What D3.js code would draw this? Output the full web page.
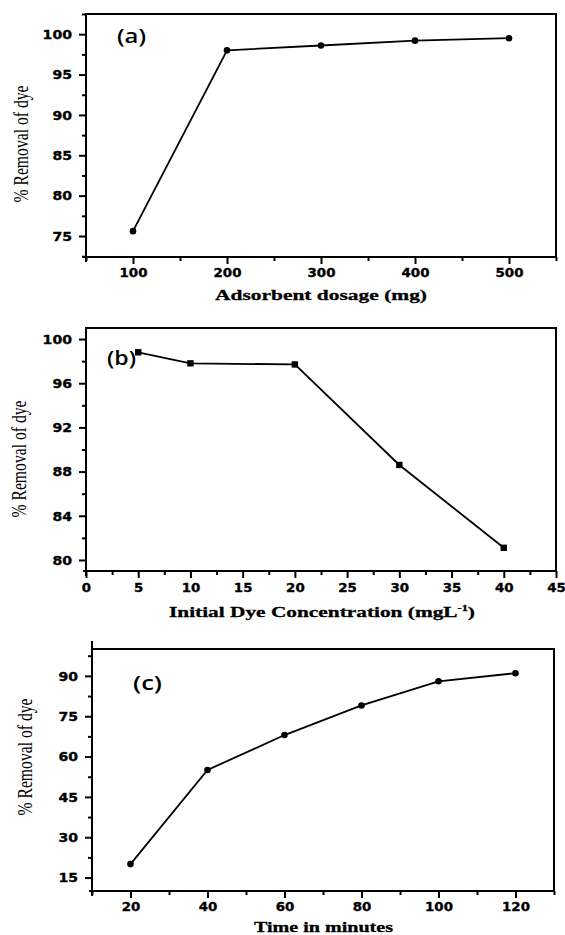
<!DOCTYPE html>
<html>
<head>
<meta charset="utf-8">
<script src="https://cdn.jsdelivr.net/npm/d3@7"></script>
<style>
  html, body { margin: 0; padding: 0; background: #fff; }
  svg { display: block; }
</style>
</head>
<body>
<svg id="chart" width="565" height="935"></svg>
<script>
// ---- data ----
const dosage = [100, 200, 300, 400, 500];
const removalA = [75.6, 98.0, 98.6, 99.2, 99.5];

const concentration = [5, 10, 20, 30, 40];
const removalB = [98.8, 97.8, 97.7, 88.6, 81.1];

const time = [20, 40, 60, 80, 100, 120];
const removalC = [20, 55, 68, 79, 88, 91];

// ---- tick labels ----
const ticksAX = [100, 200, 300, 400, 500];
const ticksAY = [75, 80, 85, 90, 95, 100];
const ticksBX = [0, 5, 10, 15, 20, 25, 30, 35, 40, 45];
const ticksBY = [80, 84, 88, 92, 96, 100];
const ticksCX = [20, 40, 60, 80, 100, 120];
const ticksCY = [15, 30, 45, 60, 75, 90];

const minorAX = [50, 150, 250, 350, 450, 550];
const minorAY = [72.5, 77.5, 82.5, 87.5, 92.5, 97.5, 102.5];
const minorBX = [2.5, 7.5, 12.5, 17.5, 22.5, 27.5, 32.5, 37.5, 42.5];
const minorBY = [82, 86, 90, 94, 98];
const minorCX = [10, 30, 50, 70, 90, 110, 130];
const minorCY = [22.5, 37.5, 52.5, 67.5, 82.5, 97.5];

const svg = d3.select("#chart");

function stretch(sel, perChar) {
  sel.each(function() {
    const t = d3.select(this);
    const n = t.text().length;
    t.attr("textLength", n * perChar).attr("lengthAdjust", "spacingAndGlyphs");
  });
}

function panel(cfg) {
  const g = svg.append("g");
  const x = d3.scaleLinear().domain(cfg.xDomain).range([cfg.left, cfg.right]);
  const y = d3.scaleLinear().domain(cfg.yDomain).range([cfg.bottom, cfg.top]);

  // minor ticks
  g.append("g").attr("transform", `translate(0,${cfg.bottom})`)
    .call(d3.axisBottom(x).tickValues(cfg.minorX).tickSize(4).tickFormat(""))
    .call(s => s.select(".domain").remove())
    .call(s => s.selectAll("line").attr("stroke-width", 2));
  g.append("g").attr("transform", `translate(${cfg.left},0)`)
    .call(d3.axisLeft(y).tickValues(cfg.minorY).tickSize(4).tickFormat(""))
    .call(s => s.select(".domain").remove())
    .call(s => s.selectAll("line").attr("stroke-width", 2));

  // major ticks + labels
  const xa = g.append("g").attr("transform", `translate(0,${cfg.bottom})`)
    .call(d3.axisBottom(x).tickValues(cfg.ticksX).tickSize(7).tickPadding(5))
    .call(s => s.select(".domain").remove());
  xa.selectAll("line").attr("stroke-width", 2);
  xa.selectAll("text").attr("font-family", "DejaVu Sans").attr("font-weight", "bold")
    .attr("font-size", 12).attr("fill", "#000").attr("stroke", "#000").attr("stroke-width", 0.35)
    .attr("dy", null).attr("y", cfg.xLabelOffset);
  stretch(xa.selectAll("text"), 9.3);

  const ya = g.append("g").attr("transform", `translate(${cfg.left},0)`)
    .call(d3.axisLeft(y).tickValues(cfg.ticksY).tickSize(7).tickPadding(7))
    .call(s => s.select(".domain").remove());
  ya.selectAll("line").attr("stroke-width", 2);
  ya.selectAll("text").attr("font-family", "DejaVu Sans").attr("font-weight", "bold")
    .attr("font-size", 12).attr("fill", "#000").attr("stroke", "#000").attr("stroke-width", 0.35)
    .attr("dy", "0.36em");
  stretch(ya.selectAll("text"), 9.8);

  // frame
  g.append("rect").attr("x", cfg.left).attr("y", cfg.top)
    .attr("width", cfg.right - cfg.left).attr("height", cfg.bottom - cfg.top)
    .attr("fill", "none").attr("stroke", "#000").attr("stroke-width", 2);
  // axis line extensions (Origin style)
  g.append("line").attr("x1", cfg.left).attr("x2", cfg.left)
    .attr("y1", cfg.top - (cfg.yExtTop || 0)).attr("y2", cfg.bottom + 5)
    .attr("stroke", "#000").attr("stroke-width", 2);
  g.append("line").attr("x1", cfg.left - 3).attr("x2", cfg.right)
    .attr("y1", cfg.bottom).attr("y2", cfg.bottom)
    .attr("stroke", "#000").attr("stroke-width", 2);

  // data line
  const pts = cfg.xs.map((v, i) => [v, cfg.ys[i]]);
  g.append("path").datum(pts)
    .attr("d", d3.line().x(d => x(d[0])).y(d => y(d[1])))
    .attr("fill", "none").attr("stroke", "#000").attr("stroke-width", 1.8);

  if (cfg.square) {
    g.selectAll("rect.pt").data(pts).join("rect").attr("class", "pt")
      .attr("x", d => x(d[0]) - 3.2).attr("y", d => y(d[1]) - 3.2)
      .attr("width", 6.4).attr("height", 6.4).attr("fill", "#000");
  } else {
    g.selectAll("circle.pt").data(pts).join("circle").attr("class", "pt")
      .attr("cx", d => x(d[0])).attr("cy", d => y(d[1])).attr("r", 3.3).attr("fill", "#000");
  }

  // panel label
  g.append("text").attr("x", cfg.tagX).attr("y", cfg.tagY)
    .attr("font-family", "Open Sans").attr("font-weight", 600).attr("font-size", 19)
    .attr("textLength", 29).attr("lengthAdjust", "spacingAndGlyphs")
    .text(cfg.tag);

  // y title
  g.append("text")
    .attr("transform", `translate(${cfg.yTitleX},${cfg.yTitleY}) rotate(-90)`)
    .attr("text-anchor", "middle")
    .attr("font-family", "Liberation Serif").attr("font-size", 21)
    .attr("textLength", 117).attr("lengthAdjust", "spacingAndGlyphs")
    .text("% Removal of dye");

  // x title
  const xt = g.append("text").attr("x", cfg.xTitleX).attr("y", cfg.xTitleY)
    .attr("font-family", "Liberation Serif").attr("font-weight", "bold").attr("font-size", 15.5)
    .attr("stroke", "#000").attr("stroke-width", 0.3)
    .attr("textLength", cfg.xTitleLen).attr("lengthAdjust", "spacingAndGlyphs");
  xt.append("tspan").text(cfg.xTitle);
  if (cfg.xTitleSup) {
    xt.append("tspan").attr("font-size", 9).attr("dy", -6).text(cfg.xTitleSup);
    xt.append("tspan").attr("dy", 6).text(")");
  }
}

panel({
  left: 86, right: 556, top: 14, bottom: 257,
  xDomain: [50, 550], yDomain: [72.4, 102.5],
  ticksX: ticksAX, ticksY: ticksAY, minorX: minorAX, minorY: minorAY,
  xLabelOffset: 19.5,
  xs: dosage, ys: removalA, square: false,
  tag: "(a)", tagX: 117, tagY: 43,
  yTitleX: 28, yTitleY: 144,
  xTitle: "Adsorbent dosage (mg)", xTitleX: 215, xTitleY: 300, xTitleLen: 212
});

panel({
  left: 86, right: 556, top: 328, bottom: 571,
  xDomain: [0, 45], yDomain: [79, 101],
  ticksX: ticksBX, ticksY: ticksBY, minorX: minorBX, minorY: minorBY,
  xLabelOffset: 21,
  xs: concentration, ys: removalB, square: true,
  tag: "(b)", tagX: 107, tagY: 365,
  yTitleX: 26, yTitleY: 459,
  xTitle: "Initial Dye Concentration (mgL", xTitleSup: "-1",
  xTitleX: 169, xTitleY: 617, xTitleLen: 306
});

panel({
  left: 92, right: 554, top: 649, bottom: 891,
  xDomain: [10, 130], yDomain: [10, 100],
  ticksX: ticksCX, ticksY: ticksCY, minorX: minorCX, minorY: minorCY,
  xLabelOffset: 19.5, yExtTop: 8,
  xs: time, ys: removalC, square: false,
  tag: "(c)", tagX: 133, tagY: 690,
  yTitleX: 32, yTitleY: 757,
  xTitle: "Time in minutes", xTitleX: 254, xTitleY: 932, xTitleLen: 139
});
</script>
</body>
</html>
